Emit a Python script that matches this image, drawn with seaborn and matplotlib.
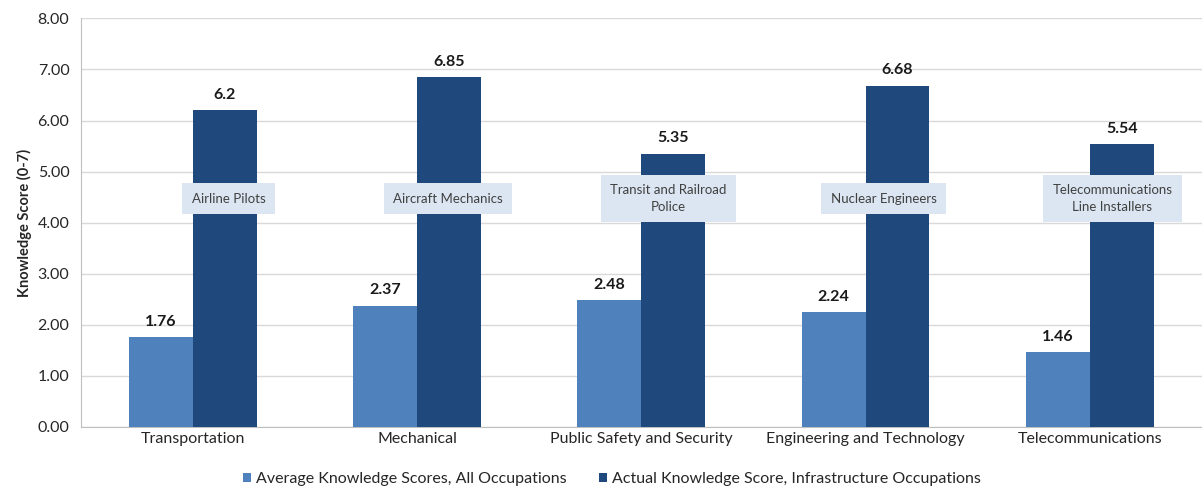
import numpy as np
import pandas as pd
import matplotlib.pyplot as plt
import seaborn as sns

categories = ["Transportation", "Mechanical", "Public Safety and Security",
              "Engineering and Technology", "Telecommunications"]
avg_scores = [1.76, 2.37, 2.48, 2.24, 1.46]
actual_scores = [6.2, 6.85, 5.35, 6.68, 5.54]
occupations = ["Airline Pilots", "Aircraft Mechanics", "Transit and Railroad\nPolice",
               "Nuclear Engineers", "Telecommunications\nLine Installers"]
series_names = ["Average Knowledge Scores, All Occupations",
                "Actual Knowledge Score, Infrastructure Occupations"]
avg_labels = ["1.76", "2.37", "2.48", "2.24", "1.46"]
actual_labels = ["6.2", "6.85", "5.35", "6.68", "5.54"]

df = pd.DataFrame({
    "Category": categories * 2,
    "Score": avg_scores + actual_scores,
    "Series": [series_names[0]] * 5 + [series_names[1]] * 5,
})

sns.set_style("white")
plt.rcParams["font.family"] = ["Lato", "DejaVu Sans"]

fig = plt.figure(figsize=(12.02, 4.98), dpi=100)
ax = fig.add_axes([0.067, 0.143, 0.933, 0.82])

palette = {series_names[0]: "#4F81BD", series_names[1]: "#1F497D"}
sns.barplot(data=df, x="Category", y="Score", hue="Series", palette=palette,
            width=0.57, saturation=1, linewidth=0, ax=ax, legend=True, zorder=3)

ax.set_ylim(0, 8)
ax.set_xlim(-0.5, 4.5)
ax.set_yticks(np.arange(0, 9, 1))
ax.set_yticklabels([f"{v:.2f}" for v in np.arange(0, 9, 1)])
ax.yaxis.grid(True, color="#D9D9D9", linewidth=1, zorder=0)
ax.set_axisbelow(True)
for s in ["top", "right"]:
    ax.spines[s].set_visible(False)
ax.spines["left"].set_color("#BFBFBF")
ax.spines["bottom"].set_color("#BFBFBF")
ax.tick_params(axis="both", labelsize=11.5, colors="#262626", length=0)
ax.tick_params(axis="y", pad=8)
ax.set_xlabel("")
ax.set_ylabel("Knowledge Score (0-7)", fontsize=10.5, fontweight="bold", color="#262626")

# value labels
for cont, labs in zip(ax.containers, [avg_labels, actual_labels]):
    ax.bar_label(cont, labels=labs, padding=6, fontsize=11.5, fontweight="bold", color="#1a1a1a")

# occupation callouts
offsets = [0.16, 0.14, 0.12, 0.08, 0.10]
for i, (occ, off) in enumerate(zip(occupations, offsets)):
    ax.text(i + off, 4.47, occ, ha="center", va="center", fontsize=9.5, color="#404040",
            zorder=5, linespacing=1.5,
            bbox=dict(boxstyle="square,pad=0.7", facecolor="#DCE6F2", edgecolor="none"))

handles, labels = ax.get_legend_handles_labels()
ax.get_legend().remove()
fig.legend(handles, labels, loc="lower center", bbox_to_anchor=(0.509, -0.005), ncol=2,
           frameon=False, fontsize=11.5, handlelength=0.55, handleheight=0.55,
           handletextpad=0.3, columnspacing=2.0, labelcolor="#262626")

fig.savefig("out.png", dpi=100)
